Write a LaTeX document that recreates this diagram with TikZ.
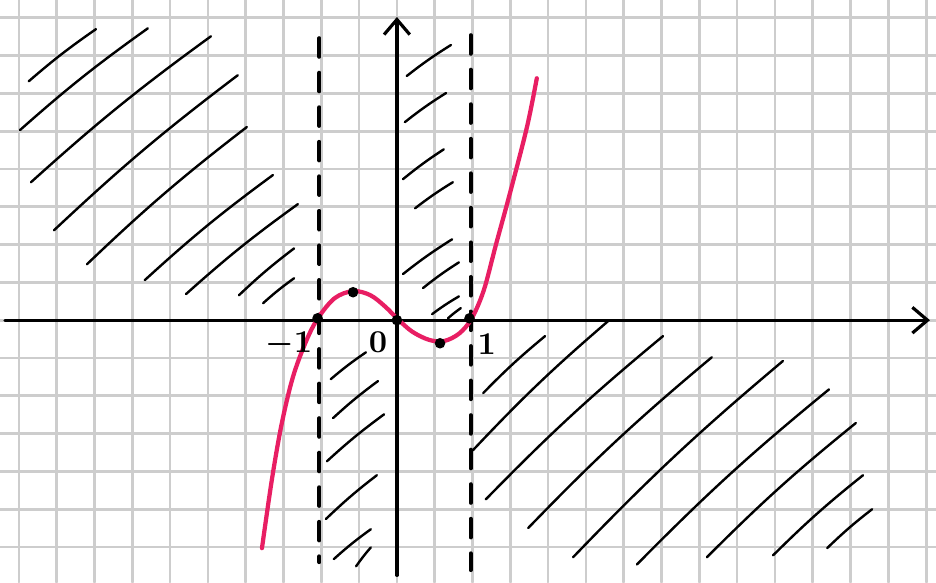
\documentclass[tikz,border=0pt]{standalone}
\usetikzlibrary{arrows.meta}
\definecolor{graphred}{RGB}{232,30,99}
\definecolor{gridgray}{RGB}{205,205,205}
\begin{document}
\begin{tikzpicture}[line join=round, line cap=round, x=0.5cm, y=0.5cm,
  gridline/.style={gridgray, line width=1pt},
  hatch/.style={line width=0.9pt, bend left=3},
  axis/.style={line width=1.2pt, -{Straight Barb[length=2mm,width=3.4mm]}},
  border/.style={line width=1.5pt, dash pattern=on 7pt off 6pt},
  lbl/.style={font=\boldmath, scale=1.2}]
\useasboundingbox (-10.50,-6.93) rectangle (14.26,8.47);
\foreach \i in {-10,...,14}{\draw[gridline](\i,-6.93)--(\i,8.47);}
\foreach \j in {-6,...,8}{\draw[gridline](-10.5,\j)--(14.26,\j);}
\coordinate (O) at (0,0);
\coordinate (xl) at (-10.37,0);
\coordinate (xr) at (14.10,0);
\coordinate (yb) at (0,-6.75);
\coordinate (yt) at (0,8.02);
\foreach \xa/\ya/\xb/\yb in {-9.74/6.32/-7.96/7.70, -9.97/5.03/-6.59/7.72, -9.68/3.65/-4.92/7.51,
  -9.07/2.38/-4.21/6.48, -8.20/1.48/-3.97/5.11, -6.67/1.06/-3.28/3.84, -5.58/0.69/-2.62/3.07,
  -4.18/0.66/-2.72/1.90, -3.54/0.45/-2.72/1.11,
  -1.75/-1.56/-0.82/-0.85, -1.69/-2.59/-0.50/-1.61, -1.85/-3.73/-0.34/-2.49,
  -1.88/-5.26/-0.53/-4.10, -1.67/-6.32/-0.69/-5.53, -1.08/-6.51/-0.69/-6.01,
  0.26/6.46/1.43/7.28, 0.21/5.24/1.30/6.01, 0.16/3.73/1.24/4.52, 0.48/2.96/1.48/3.65,
  0.16/1.22/1.46/2.14, 0.69/0.85/1.64/1.53, 0.93/0.16/1.64/0.63, 1.35/0.05/1.69/0.32,
  2.28/-1.93/3.92/-0.42, 2.01/-3.44/5.58/-0.03, 2.35/-4.74/7.04/-0.42, 3.47/-5.50/8.33/-0.98,
  4.66/-6.27/10.21/-1.08, 6.35/-6.46/11.43/-1.83, 8.20/-6.27/12.14/-2.72,
  9.95/-6.22/12.33/-4.10, 11.38/-6.03/12.57/-5.00}
  {\draw[hatch](\xa,\ya) to (\xb,\yb);}
\draw[border](-2.05,7.46)--(-2.05,-6.40);
\draw[border](1.95,7.54)--(1.95,-6.61);
\draw[axis](xl)--(xr);
\draw[axis](yb)--(yt);
\draw[graphred, line width=1.6pt] plot[smooth, tension=0.55] coordinates {(-3.57,-6.03) (-3.31,-4.23)
  (-3.05,-2.75) (-2.75,-1.50) (-2.40,-0.55) (-2.09,0.05) (-1.65,0.58) (-1.16,0.77) (-0.70,0.66)
  (-0.30,0.35) (0,0.05) (0.40,-0.30) (0.85,-0.52) (1.25,-0.55) (1.65,-0.35) (1.98,0.05)
  (2.30,0.80) (2.62,2.00) (2.99,3.36) (3.44,5.11) (3.70,6.40)};
\foreach \p in {(-2.10,0.05),(-1.16,0.74),(0,0),(1.14,-0.61),(1.92,0.05)}{\fill \p circle (0.14);}
\node[lbl] (m1) at (-2.86,-0.63) {$-1$};
\node[lbl] (z0) at (-0.50,-0.58) {$0$};
\node[lbl] (p1) at (2.38,-0.63) {$1$};
\end{tikzpicture}
\end{document}
